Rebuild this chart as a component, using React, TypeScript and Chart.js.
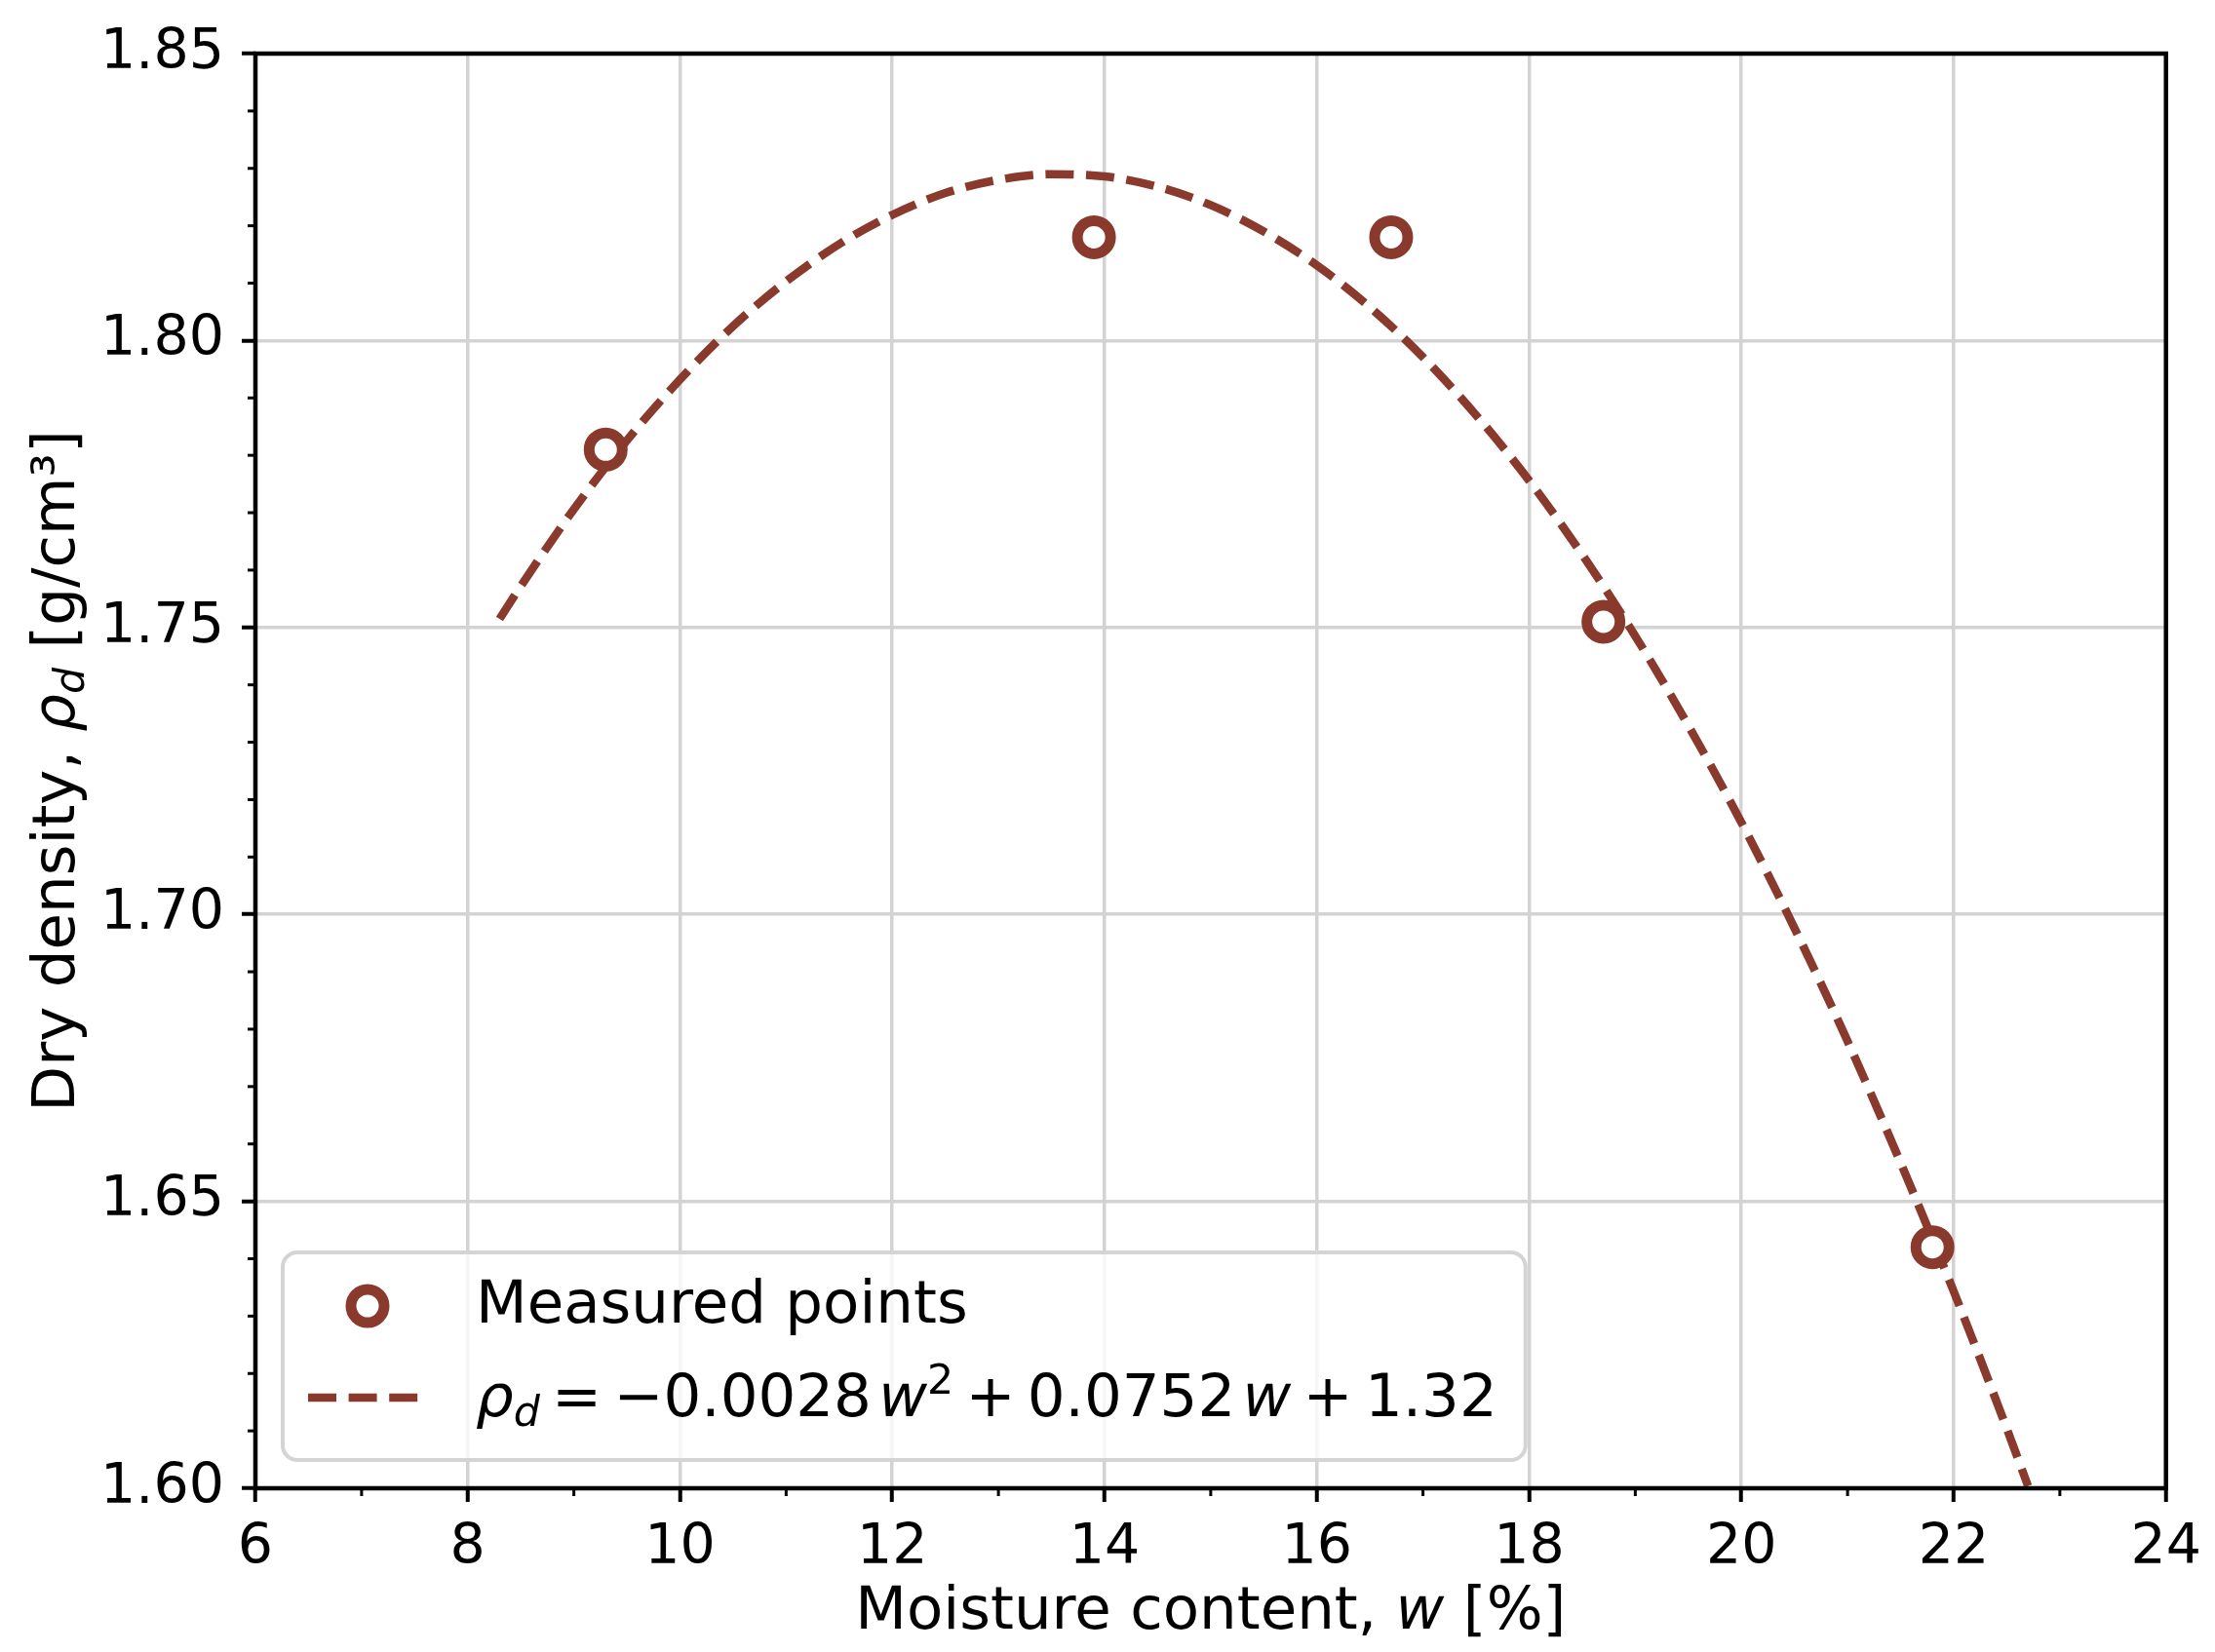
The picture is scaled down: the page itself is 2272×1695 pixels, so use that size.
import { useEffect, useRef } from 'react';
import { Chart, registerables } from 'chart.js';

Chart.register(...registerables);

// measured compaction points
const measuredW = [9.3, 13.9, 16.7, 18.7, 21.8];
const measuredRho = [1.781, 1.818, 1.818, 1.751, 1.642];

// fitted curve
const fitW = [8.3, 8.5, 9, 9.5, 10, 10.5, 11, 11.5, 12, 12.5, 13, 13.5, 14, 14.5, 15, 15.5, 16, 16.5, 17, 17.5, 18, 18.5, 19, 19.5, 20, 20.5, 21, 21.5, 22, 22.5, 22.7];
const fitRho = [1.7515, 1.7572, 1.7706, 1.7826, 1.7932, 1.8025, 1.8103, 1.8168, 1.8219, 1.8257, 1.828, 1.829, 1.8286, 1.8268, 1.8236, 1.819, 1.8131, 1.8058, 1.7971, 1.787, 1.7756, 1.7627, 1.7485, 1.7329, 1.716, 1.6976, 1.6779, 1.6567, 1.6343, 1.6104, 1.6004];

// ticks
const xTicks = [6, 8, 10, 12, 14, 16, 18, 20, 22, 24];
const yTicks = [1.6, 1.65, 1.7, 1.75, 1.8, 1.85];
const xMinor = [7, 9, 11, 13, 15, 17, 19, 21, 23];
const yMinor = [1.61, 1.62, 1.63, 1.64, 1.66, 1.67, 1.68, 1.69, 1.71, 1.72, 1.73, 1.74, 1.76, 1.77, 1.78, 1.79, 1.81, 1.82, 1.83, 1.84];

// g = extra gap in em (math spacing)
type Seg = { t: string; it?: boolean; sub?: boolean; sup?: boolean; g?: number };

const xTitle: Seg[] = [{ t: 'Moisture content, ' }, { t: 'w', it: true }, { t: ' [%]' }];
const yTitle: Seg[] = [{ t: 'Dry density, ' }, { t: 'ρ', it: true }, { t: 'd', it: true, sub: true }, { t: ' [g/cm³]' }];
const legendLabels: Seg[][] = [
  [{ t: 'Measured points' }],
  [
    { t: 'ρ', it: true }, { t: 'd', it: true, sub: true }, { t: '', g: 0.2 }, { t: '=' }, { t: '', g: 0.2 },
    { t: '−0.0028' }, { t: '', g: 0.12 }, { t: 'w', it: true }, { t: '2', sup: true },
    { t: '', g: 0.2 }, { t: '+' }, { t: '', g: 0.2 }, { t: '0.0752' }, { t: '', g: 0.12 },
    { t: 'w', it: true }, { t: '', g: 0.2 }, { t: '+' }, { t: '', g: 0.2 }, { t: '1.32' },
  ],
];

const COLOR = '#8a3a2c';
const FONT = "'DejaVu Sans', sans-serif";

function segFont(s: Seg, size: number) {
  const sz = s.sub || s.sup ? size * 0.7 : size;
  return `${s.it ? 'italic ' : ''}${sz}px ${FONT}`;
}

function segWidth(ctx: CanvasRenderingContext2D, s: Seg, size: number) {
  if (s.g) return s.g * size;
  ctx.font = segFont(s, size);
  return ctx.measureText(s.t).width;
}

function richWidth(ctx: CanvasRenderingContext2D, segs: Seg[], size: number) {
  return segs.reduce((w, s) => w + segWidth(ctx, s, size), 0);
}

function drawRich(ctx: CanvasRenderingContext2D, segs: Seg[], x: number, y: number, size: number, align: 'left' | 'center') {
  let cx = align === 'center' ? x - richWidth(ctx, segs, size) / 2 : x;
  ctx.textAlign = 'left';
  ctx.textBaseline = 'alphabetic';
  ctx.fillStyle = '#000';
  segs.forEach(s => {
    if (!s.g) {
      ctx.font = segFont(s, size);
      const dy = s.sub ? size * 0.17 : s.sup ? -size * 0.38 : 0;
      ctx.fillText(s.t, cx, y + dy);
    }
    cx += segWidth(ctx, s, size);
  });
}

// spines, minor ticks, axis titles and the legend box
const decorPlugin = {
  id: 'decor',
  afterDraw(chart: any) {
    const { ctx, chartArea: a, scales } = chart;
    const x = scales.x;
    const y = scales.y;
    ctx.save();

    // minor ticks
    ctx.strokeStyle = '#000';
    ctx.lineWidth = 3;
    xMinor.forEach(v => {
      const px = x.getPixelForValue(v);
      ctx.beginPath();
      ctx.moveTo(px, a.bottom);
      ctx.lineTo(px, a.bottom + 8);
      ctx.stroke();
    });
    yMinor.forEach(v => {
      const py = y.getPixelForValue(v);
      ctx.beginPath();
      ctx.moveTo(a.left - 8, py);
      ctx.lineTo(a.left, py);
      ctx.stroke();
    });

    // spines
    ctx.lineWidth = 4.5;
    ctx.strokeRect(a.left, a.top, a.right - a.left, a.bottom - a.top);

    // axis titles
    drawRich(ctx, xTitle, (a.left + a.right) / 2, a.bottom + 144, 61, 'center');
    ctx.save();
    ctx.translate(76, (a.top + a.bottom) / 2);
    ctx.rotate(-Math.PI / 2);
    drawRich(ctx, yTitle, 0, 0, 61, 'center');
    ctx.restore();

    // legend
    const size = 61;
    const boxL = a.left + 28;
    const boxT = a.bottom - 242;
    const textX = boxL + 198;
    const maxW = Math.max(...legendLabels.map(l => richWidth(ctx, l, size)));
    const boxW = textX + maxW + 29 - boxL;
    const boxH = 213;
    ctx.beginPath();
    ctx.roundRect(boxL, boxT, boxW, boxH, 15);
    ctx.fillStyle = 'rgba(255,255,255,0.8)';
    ctx.fill();
    ctx.lineWidth = 4;
    ctx.strokeStyle = '#d4d4d4';
    ctx.stroke();

    const ds = chart.data.datasets;
    // marker row
    const mk = ds[0];
    ctx.beginPath();
    ctx.arc(boxL + 87, boxT + 55, mk.pointRadius, 0, Math.PI * 2);
    ctx.fillStyle = mk.pointBackgroundColor;
    ctx.fill();
    ctx.lineWidth = mk.pointBorderWidth;
    ctx.strokeStyle = mk.pointBorderColor;
    ctx.stroke();
    drawRich(ctx, legendLabels[0], textX, boxT + 72, size, 'left');

    // line row
    const ln = ds[1];
    ctx.beginPath();
    ctx.setLineDash(ln.borderDash);
    ctx.lineWidth = ln.borderWidth;
    ctx.strokeStyle = ln.borderColor;
    ctx.moveTo(boxL + 26, boxT + 149);
    ctx.lineTo(boxL + 142, boxT + 149);
    ctx.stroke();
    ctx.setLineDash([]);
    drawRich(ctx, legendLabels[1], textX, boxT + 168, size, 'left');

    ctx.restore();
  },
};

export default function App() {
  const canvasRef = useRef<HTMLCanvasElement>(null);
  const chartRef = useRef<Chart | null>(null);

  useEffect(() => {
    if (!canvasRef.current) return;
    if (chartRef.current) chartRef.current.destroy();

    const tickFont = { family: FONT, size: 57 };

    chartRef.current = new Chart(canvasRef.current, {
      type: 'scatter',
      data: {
        datasets: [
          {
            label: 'Measured points',
            data: measuredW.map((w, i) => ({ x: w, y: measuredRho[i] })),
            pointRadius: 17,
            pointBorderWidth: 11,
            pointBorderColor: COLOR,
            pointBackgroundColor: '#ffffff',
            pointHoverRadius: 17,
            showLine: false,
            order: 0,
          },
          {
            label: 'fit',
            data: fitW.map((w, i) => ({ x: w, y: fitRho[i] })),
            showLine: true,
            pointRadius: 0,
            borderColor: COLOR,
            borderWidth: 8.5,
            borderDash: [29, 12.6],
            cubicInterpolationMode: 'monotone',
            order: 1,
          },
        ] as any,
      },
      options: {
        responsive: false,
        devicePixelRatio: 1,
        animation: false,
        layout: { padding: { top: 55, right: 48, left: 0, bottom: 0 } },
        plugins: {
          legend: { display: false },
          tooltip: { enabled: false },
        },
        scales: {
          x: {
            type: 'linear',
            min: 6,
            max: 24,
            afterBuildTicks: (s: any) => { s.ticks = xTicks.map(v => ({ value: v })); },
            afterFit: (s: any) => { s.height = 168; },
            ticks: { font: tickFont, color: '#000', padding: 14, maxRotation: 0, autoSkip: false },
            grid: { color: '#d3d3d3', lineWidth: 3.5, tickLength: 14, tickColor: '#000', tickWidth: 4 },
            border: { display: false },
          },
          y: {
            type: 'linear',
            min: 1.6,
            max: 1.85,
            afterBuildTicks: (s: any) => { s.ticks = yTicks.map(v => ({ value: v })); },
            afterFit: (s: any) => { s.width = 262; },
            ticks: {
              font: tickFont,
              color: '#000',
              padding: 18,
              autoSkip: false,
              callback: (v: any) => Number(v).toFixed(2),
            },
            grid: { color: '#d3d3d3', lineWidth: 3.5, tickLength: 14, tickColor: '#000', tickWidth: 4 },
            border: { display: false },
          },
        },
      },
      plugins: [decorPlugin],
    });

    return () => {
      if (chartRef.current) {
        chartRef.current.destroy();
        chartRef.current = null;
      }
    };
  }, []);

  return (
    <div style={{ position: 'absolute', left: 0, top: 0, width: 2272, height: 1695, background: '#fff' }}>
      <canvas ref={canvasRef} width={2272} height={1695} style={{ display: 'block' }}></canvas>
    </div>
  );
}
